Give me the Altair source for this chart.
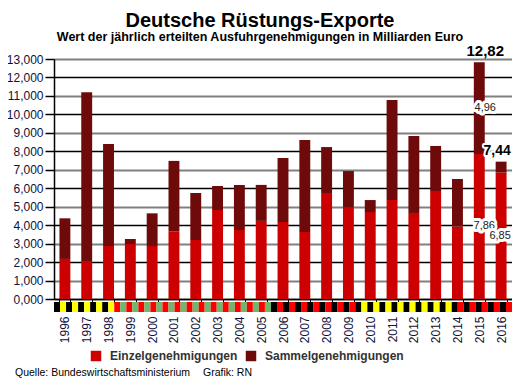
import altair as alt
import pandas as pd

# ---- data ----
years = [str(y) for y in range(1996, 2017)]
einzel = [2.17, 2.06, 2.87, 2.98, 2.87, 3.65, 3.20, 4.82, 3.74, 4.23, 4.17,
          3.63, 5.74, 4.98, 4.71, 5.36, 4.66, 5.85, 3.92, 7.86, 6.85]
sammel = [2.20, 9.14, 5.53, 0.27, 1.77, 3.83, 2.54, 1.30, 2.44, 1.95, 3.47,
          4.98, 2.49, 1.95, 0.65, 5.42, 4.17, 2.44, 2.58, 4.96, 0.59]
series = ["Einzelgenehmigungen", "Sammelgenehmigungen"]
series_colors = ["#CC0000", "#6E0A0A"]
y_ticks = list(range(0, 14))

# coalition colour strip under the axis: (first colour, second colour, number of squares)
stripe_periods = [
    ("#000000", "#FFFF00", 10),
    ("#FF0000", "#6DB86D", 26),
    ("#000000", "#FF0000", 15),
    ("#FFFF00", "#000000", 16),
    ("#FF0000", "#000000", 9),
]

title_text = "Deutsche Rüstungs-Exporte"
subtitle_text = "Wert der jährlich erteilten Ausfuhrgenehmigungen in Milliarden Euro"
source_text = "Quelle: Bundeswirtschaftsministerium"
credit_text = "Grafik: RN"

FONT = "Liberation Sans, Arial, sans-serif"

# ---- tables ----
rows = []
for i, y in enumerate(years):
    rows.append({"year": y, "series": series[0], "value": einzel[i], "order": 0})
    rows.append({"year": y, "series": series[1], "value": sammel[i], "order": 1})
df = pd.DataFrame(rows)

srows = []
k = 0
for c1, c2, n in stripe_periods:
    for j in range(n):
        srows.append({"i0": k, "i1": k + 1, "c": c1 if j % 2 == 0 else c2})
        k += 1
stripe_df = pd.DataFrame(srows)
n_sq = k

def de(v):
    return f"{v:.2f}".replace(".", ",")

W, H = 458, 240

x_axis = alt.Axis(title=None, labelAngle=270, labelFontSize=12,
                  labelColor="#101038", labelFont=FONT,
                  tickBand="extent", tickSize=4, tickColor="black",
                  domainColor="black", domainWidth=1.5,
                  labelPadding=13, grid=False)
x_scale = alt.Scale(paddingInner=0.5, paddingOuter=0.25)
y_axis = alt.Axis(title=None, values=y_ticks, labelOverlap=False,
                  labelExpr="replace(format(datum.value, '.3f'), '.', ',')",
                  labelFontSize=12, labelColor="#101038", labelFont=FONT,
                  tickSize=9, tickColor="black", tickWidth=1.5,
                  domainColor="black", domainWidth=1.5, labelPadding=2,
                  gridColor=alt.condition("datum.value % 2 == 1",
                                          alt.value("#808080"), alt.value("#000000")),
                  gridWidth=alt.condition("datum.value % 2 == 1",
                                          alt.value(2.2), alt.value(1.4)))
y_scale = alt.Scale(domain=[0, 13], nice=False)

bars = alt.Chart(df).mark_bar().encode(
    x=alt.X("year:N", sort=years, scale=x_scale, axis=x_axis),
    y=alt.Y("value:Q", stack="zero", scale=y_scale, axis=y_axis),
    color=alt.Color("series:N", scale=alt.Scale(domain=series, range=series_colors),
                    legend=alt.Legend(title=None, orient="none", legendX=36, legendY=291,
                                      direction="horizontal", columns=2,
                                      symbolType="square", symbolSize=110,
                                      symbolStrokeWidth=0, labelFontSize=12,
                                      labelFontWeight="bold", labelColor="#333333",
                                      labelFont=FONT, labelOffset=8,
                                      columnPadding=7, padding=0)),
    order=alt.Order("order:Q"),
)

# annotations
t15 = einzel[-2] + sammel[-2]
t16 = einzel[-1] + sammel[-1]

def enc(ch):
    return ch.encode(x=alt.X("year:N", sort=years, scale=x_scale, axis=x_axis),
                     y=alt.Y("y:Q", scale=y_scale, axis=y_axis),
                     text="label:N")

# (year, y value, label, size, bold, dx, dy, halo width)
ann_specs = [
    (years[-2], t15, de(t15), 15, True, 6, -11, 0),
    (years[-1], t16, de(t16), 14, True, -4, -11, 4),
    (years[-2], einzel[-2] + sammel[-2] / 2, de(sammel[-2]), 11, False, 6, 0, 6),
    (years[-2], einzel[-2] / 2, de(einzel[-2]), 11, False, 5, 0, 6),
    (years[-1], einzel[-1] / 2, de(einzel[-1]), 11, False, -1, 0, 6),
]

ann_layers = []
for yr, yv, lab, fs, bold, dx, dy, halo in ann_specs:
    d = pd.DataFrame({"year": [yr], "y": [yv], "label": [lab]})
    common = dict(font=FONT, fontSize=fs, fontWeight="bold" if bold else "normal",
                  dx=dx, dy=dy, baseline="middle")
    if halo:
        ann_layers.append(enc(alt.Chart(d).mark_text(
            color="white", stroke="white", strokeWidth=halo, strokeJoin="round", **common)))
    ann_layers.append(enc(alt.Chart(d).mark_text(
        color="black" if bold else "#222222", **common)))

main = alt.layer(bars, *ann_layers)

stripe = alt.Chart(stripe_df).mark_rect().encode(
    x=alt.X("i0:Q", scale=alt.Scale(domain=[0, n_sq], nice=False), axis=None),
    x2="i1:Q",
    y=alt.value(H + 3),
    y2=alt.value(H + 13),
    fill=alt.Fill("c:N", scale=None),
)

notes = alt.Chart(pd.DataFrame({"t": [source_text, credit_text], "px": [-39, 149]})).mark_text(
    font=FONT, fontSize=10.5, color="black", align="left", baseline="alphabetic"
).encode(x=alt.X("px:Q", scale=None, axis=None), y=alt.value(H + 77), text="t:N")

chart = alt.layer(main, stripe, notes).resolve_scale(x="independent").properties(
    width=W, height=H,
    autosize=alt.AutoSizeParams(type="none"),
    padding={"left": 46, "top": 51, "right": 0, "bottom": 81},
    title=alt.TitleParams(text=title_text, subtitle=subtitle_text, font=FONT,
                          subtitleFont=FONT, fontSize=20, fontWeight="bold",
                          subtitleFontSize=12.5, subtitleFontWeight="bold",
                          color="black", subtitleColor="black",
                          anchor="middle", dx=-23, offset=1, subtitlePadding=0),
).configure_view(stroke=None).configure(font=FONT)

chart.save("out.html", embed_options={"renderer": "svg", "actions": False})
